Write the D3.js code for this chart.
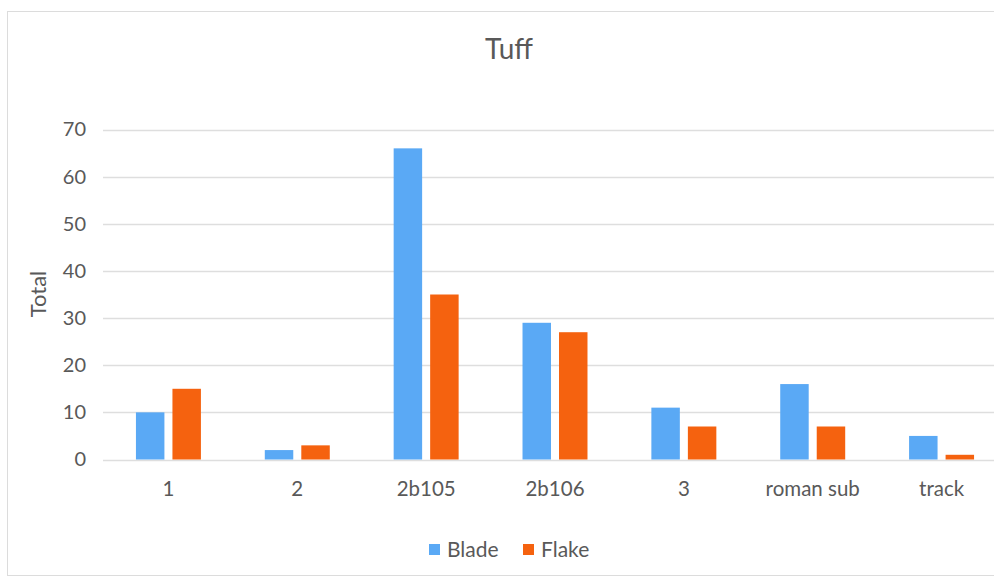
<!DOCTYPE html>
<html>
<head>
<meta charset="utf-8">
<script src="https://cdn.jsdelivr.net/npm/d3@7"></script>
<style>
  html, body { margin: 0; padding: 0; background: #fff; }
  svg { display: block; }
  text { font-family: Lato, "Open Sans", sans-serif; fill: #595959; }
</style>
</head>
<body>
<svg id="chart" width="994" height="576"></svg>
<script>
// Tuff artefacts per context, by type
const categories = ["1", "2", "2b105", "2b106", "3", "roman sub", "track"];
const seriesNames = ["Blade", "Flake"];
const bladeValues = [10, 2, 66, 29, 11, 16, 5];
const flakeValues = [15, 3, 35, 27, 7, 7, 1];
const yTicks = [0, 10, 20, 30, 40, 50, 60, 70];
const colors = ["#5aa9f5", "#f5620f"];

const svg = d3.select("#chart");
const W = 994, H = 576;

// outer chart frame
svg.append("rect")
  .attr("x", 7.5).attr("y", 11.5)
  .attr("width", W).attr("height", H - 12)
  .attr("fill", "#fff").attr("stroke", "#dcdcdc");

const plot = { left: 104, right: 1006, top: 129.5, bottom: 459.5 };

const x = d3.scaleBand().domain(categories).range([plot.left, plot.right]).padding(0);
const xs = d3.scaleBand().domain(seriesNames).range([0, x.bandwidth()])
  .paddingInner(0.22).paddingOuter(0.875);
const y = d3.scaleLinear().domain([0, 70]).range([plot.bottom, plot.top]);

// gridlines
svg.append("g")
  .selectAll("line")
  .data(yTicks)
  .join("line")
  .attr("x1", plot.left - 1).attr("x2", W)
  .attr("y1", d => Math.round(y(d)) + 0.5).attr("y2", d => Math.round(y(d)) + 0.5)
  .attr("stroke", "#dedede").attr("stroke-width", 1.3);

// y axis labels
const yAxis = d3.axisLeft(y).tickValues(yTicks).tickSize(0).tickPadding(0);
const gy = svg.append("g").attr("transform", `translate(${plot.left - 18},0)`).call(yAxis);
gy.select(".domain").remove();
gy.selectAll("text").style("font-size", "20px").attr("fill", "#595959")
  .attr("font-family", "Lato, sans-serif");

// x axis labels
const xAxis = d3.axisBottom(x).tickSize(0).tickPadding(0);
const gx = svg.append("g").attr("transform", `translate(0,${plot.bottom + 22})`).call(xAxis);
gx.select(".domain").remove();
gx.selectAll("text").style("font-size", "20.5px").attr("fill", "#595959")
  .attr("font-family", "Lato, sans-serif");

// bars
const rows = categories.map((c, i) => ({ cat: c, vals: [bladeValues[i], flakeValues[i]] }));
svg.append("g")
  .selectAll("g")
  .data(rows)
  .join("g")
  .attr("transform", d => `translate(${x(d.cat)},0)`)
  .selectAll("rect")
  .data(d => d.vals.map((v, j) => ({ name: seriesNames[j], v, j })))
  .join("rect")
  .attr("x", d => xs(d.name))
  .attr("width", xs.bandwidth())
  .attr("y", d => y(d.v))
  .attr("height", d => y(0) - y(d.v))
  .attr("fill", d => colors[d.j]);

// title
svg.append("text")
  .attr("x", 509).attr("y", 59)
  .attr("text-anchor", "middle")
  .style("font-size", "28px")
  .text("Tuff");

// y axis title
svg.append("text")
  .attr("transform", "translate(46,294) rotate(-90)")
  .attr("text-anchor", "middle")
  .style("font-size", "22px")
  .text("Total");

// legend
const legendItems = [{ name: "Blade", x: 429 }, { name: "Flake", x: 523 }];
const lg = svg.append("g");
legendItems.forEach((d, i) => {
  lg.append("rect").attr("x", d.x).attr("y", 544).attr("width", 11).attr("height", 11)
    .attr("fill", colors[i]);
  lg.append("text").attr("x", d.x + 18).attr("y", 557)
    .style("font-size", "21px").text(d.name);
});
</script>
</body>
</html>
